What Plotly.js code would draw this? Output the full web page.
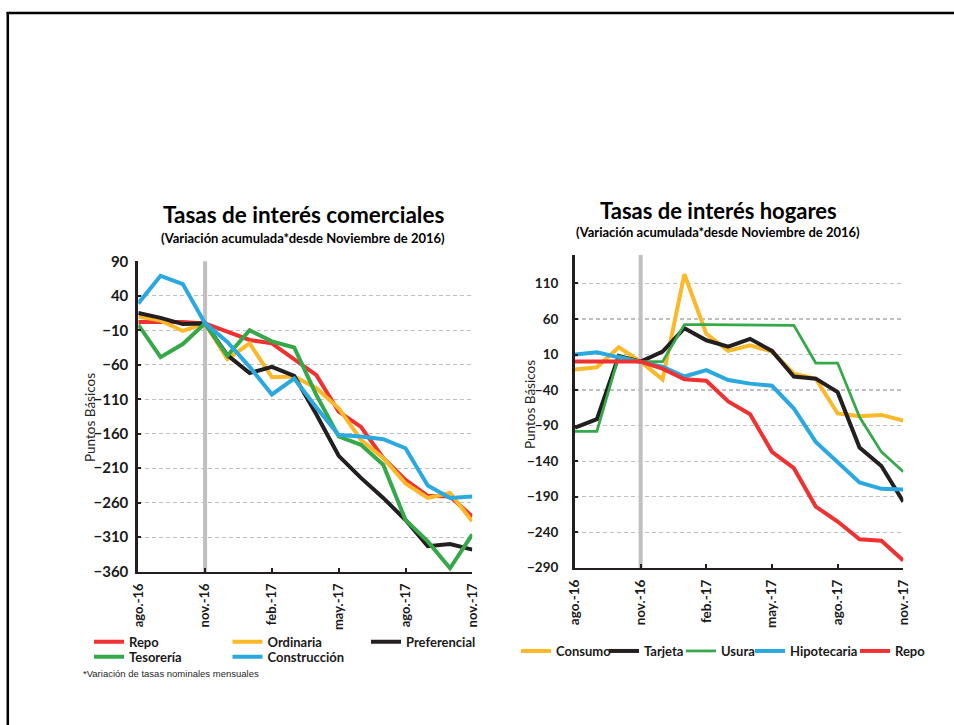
<!DOCTYPE html>
<html>
<head>
<meta charset="utf-8">
<script src="https://cdn.plot.ly/plotly-3.0.1.min.js"></script>
<style>
  html, body { margin: 0; padding: 0; background: #fff; }
  #chart { width: 954px; height: 725px; }
</style>
</head>
<body>
<div id="chart"></div>
<script>
// ---------- data ----------
const months = ['ago.-16','sep.-16','oct.-16','nov.-16','dic.-16','ene.-17','feb.-17','mar.-17',
                'abr.-17','may.-17','jun.-17','jul.-17','ago.-17','sep.-17','oct.-17','nov.-17'];
const tickLabels = ['ago.-16','nov.-16','feb.-17','may.-17','ago.-17','nov.-17'];
const refMonth = 'nov.-16';

// Tasas de interés comerciales
const comRepo         = [2, 2, 2, 0, -12, -24, -29, -52, -75, -128, -150, -195, -227, -250, -251, -280];
const comOrdinaria    = [10, 4, -11, 0, -52, -29, -78, -77, -94, -123, -169, -195, -232, -253, -246, -287];
const comPreferencial = [15, 8, -1, 0, -46, -72, -63, -76, -132, -192, -224, -253, -285, -323, -320, -328];
const comTesoreria    = [-2, -49, -30, 0, -47, -10, -26, -35, -104, -164, -176, -205, -285, -316, -355, -306];
const comConstruccion = [29, 69, 57, 0, -27, -63, -103, -80, -122, -162, -164, -168, -181, -235, -253, -251];

// Tasas de interés hogares
const hogConsumo     = [-11, -8, 20, 0, -25, 123, 39, 15, 23, 14, -17, -24, -73, -77, -75, -83];
const hogTarjeta     = [-93, -81, 8, 0, 14, 47, 30, 21, 32, 15, -21, -24, -43, -121, -147, -197];
const hogUsura       = [-98, -98, 8, 0, 0, 52, 52, 51.5, 51, 51, 51, -2, -2, -78, -127, -155];
const hogHipotecaria = [10, 13, 6, 0, -7, -21, -12, -26, -31, -34, -66, -113, -141, -170, -179, -180];
const hogRepo        = [0, 0, 0, 0, -10, -25, -27, -56, -74, -127, -150, -204, -225, -250, -252, -280];

// ---------- styling ----------
const C = { red:'#EF3131', yellow:'#FBB829', black:'#231F20', green:'#35A949', blue:'#2AA8E0' };
const W = 954, H = 725;
const px = x => x / W;
const py = y => 1 - y / H;
const FONT = 'Lato, "Open Sans", sans-serif';

function tr(name, y, color, xa, ya, legend, width, lw) {
  const t = { type:'scatter', mode:'lines', name:name, x:months, y:y, xaxis:xa, yaxis:ya,
    legend:legend, line:{color:color, width:width || 4}, hoverinfo:'skip' };
  if (lw !== undefined) t.legendwidth = lw;
  return t;
}

const data = [
  tr('Repo', comRepo, C.red, 'x', 'y', 'legend'),
  tr('Ordinaria', comOrdinaria, C.yellow, 'x', 'y', 'legend'),
  tr('Preferencial', comPreferencial, C.black, 'x', 'y', 'legend'),
  tr('Tesorería', comTesoreria, C.green, 'x', 'y', 'legend2'),
  tr('Construcción', comConstruccion, C.blue, 'x', 'y', 'legend2'),
  tr('Consumo', hogConsumo, C.yellow, 'x2', 'y2', 'legend3', 4, 43),
  tr('Tarjeta', hogTarjeta, C.black, 'x2', 'y2', 'legend3', 4, 32),
  tr('Usura', hogUsura, C.green, 'x2', 'y2', 'legend3', 2.75, 24),
  tr('Hipotecaria', hogHipotecaria, C.blue, 'x2', 'y2', 'legend3', 4, 60),
  tr('Repo', hogRepo, C.red, 'x2', 'y2', 'legend3', 4, 35)
];

function xaxis(domain, size) {
  return { domain:domain, type:'category', categoryorder:'array', categoryarray:months,
    range:[0, months.length - 1], tickmode:'array', tickvals:tickLabels, ticktext:tickLabels,
    tickangle:-90, tickfont:{family:FONT, size:size, weight:700, color:'#1A1A1A'},
    showline:true, linecolor:'#231F20', linewidth:2.5, ticks:'inside', ticklen:4, tickwidth:2,
    tickcolor:'#231F20', showgrid:false, zeroline:false, fixedrange:true, ticklabelstandoff:4 };
}
function yaxis(domain, range, size, anchor, standoff) {
  return { domain:domain, range:range, tick0:range[0], dtick:50, tickmode:'linear', anchor:anchor,
    tickfont:{family:FONT, size:size, weight:700, color:'#1A1A1A'},
    showline:true, linecolor:'#231F20', linewidth:3, ticks:'inside', ticklen:3, tickwidth:2,
    tickcolor:'#231F20', showgrid:true, gridcolor:'#BFBFBF', griddash:'4px,3px', gridwidth:1.2,
    zeroline:false, fixedrange:true, ticklabelstandoff:standoff };
}

const legFont = {family:FONT, size:13, weight:700, color:'#1A1A1A'};
const layout = {
  width:W, height:H, paper_bgcolor:'#fff', plot_bgcolor:'rgba(0,0,0,0)',
  margin:{l:0, r:0, t:0, b:0, autoexpand:false}, showlegend:true,
  xaxis: Object.assign(xaxis([px(138.3), px(472.3)], 13), {anchor:'y'}),
  yaxis: yaxis([py(571.7), py(261.3)], [-360, 90], 15, 'x', 4),
  xaxis2: Object.assign(xaxis([px(575), px(903.3)], 13.5), {anchor:'y2'}),
  yaxis2: yaxis([py(567.7), py(255)], [-290, 150], 13.5, 'x2', 11),
  legend: {orientation:'h', x:px(89), xanchor:'left', y:py(641.7), yanchor:'middle',
           entrywidth:93.5, entrywidthmode:'pixels', font:legFont, bgcolor:'rgba(0,0,0,0)', itemwidth:30, tracegroupgap:0},
  legend2: {orientation:'h', x:px(89), xanchor:'left', y:py(656.7), yanchor:'middle',
           entrywidth:93.5, entrywidthmode:'pixels', font:legFont, bgcolor:'rgba(0,0,0,0)', itemwidth:30, tracegroupgap:0},
  legend3: {orientation:'h', x:px(516), xanchor:'left', y:py(651), yanchor:'middle',
           font:legFont, bgcolor:'rgba(0,0,0,0)', itemwidth:30, tracegroupgap:0},
  shapes: [
    {type:'line', xref:'x', yref:'y domain', x0:refMonth, x1:refMonth, y0:0, y1:1,
     line:{color:'#BFBFBF', width:4}, layer:'below'},
    {type:'line', xref:'x2', yref:'y2 domain', x0:refMonth, x1:refMonth, y0:0, y1:1,
     line:{color:'#BFBFBF', width:4}, layer:'below'},
    {type:'line', xref:'paper', yref:'paper', x0:px(7.8), x1:px(7.8), y0:0, y1:py(12), line:{color:'#000', width:2.5}},
    {type:'line', xref:'paper', yref:'paper', x0:px(6.6), x1:1, y0:py(12.9), y1:py(12.9), line:{color:'#000', width:2.5}}
  ],
  annotations: [
    {text:'Tasas de interés comerciales', x:px(303), y:py(215), xref:'paper', yref:'paper', showarrow:false,
     xanchor:'center', yanchor:'middle', font:{family:FONT, size:22.5, weight:700, color:'#000'}},
    {text:'(Variación acumulada*desde Noviembre de 2016)', x:px(302.5), y:py(238), xref:'paper', yref:'paper', showarrow:false,
     xanchor:'center', yanchor:'middle', font:{family:FONT, size:13, weight:700, color:'#000'}},
    {text:'Tasas de interés hogares', x:px(718), y:py(210), xref:'paper', yref:'paper', showarrow:false,
     xanchor:'center', yanchor:'middle', font:{family:FONT, size:22, weight:700, color:'#000'}},
    {text:'(Variación acumulada*desde Noviembre de 2016)', x:px(718), y:py(232), xref:'paper', yref:'paper', showarrow:false,
     xanchor:'center', yanchor:'middle', font:{family:FONT, size:13, weight:700, color:'#000'}},
    {text:'Puntos Básicos', x:px(90), y:py(418), xref:'paper', yref:'paper', showarrow:false, textangle:-90,
     xanchor:'center', yanchor:'middle', font:{family:FONT, size:13.5, color:'#262626'}},
    {text:'Puntos Básicos', x:px(530), y:py(405), xref:'paper', yref:'paper', showarrow:false, textangle:-90,
     xanchor:'center', yanchor:'middle', font:{family:FONT, size:13.5, color:'#262626'}},
    {text:'*Variación de tasas nominales mensuales', x:px(81), y:py(673), xref:'paper', yref:'paper', showarrow:false,
     xanchor:'left', yanchor:'middle', font:{family:'"Liberation Sans", Arial, sans-serif', size:9.5, color:'#262626'}}
  ]
};

Plotly.newPlot('chart', data, layout, {staticPlot:true, displayModeBar:false});
</script>
</body>
</html>
